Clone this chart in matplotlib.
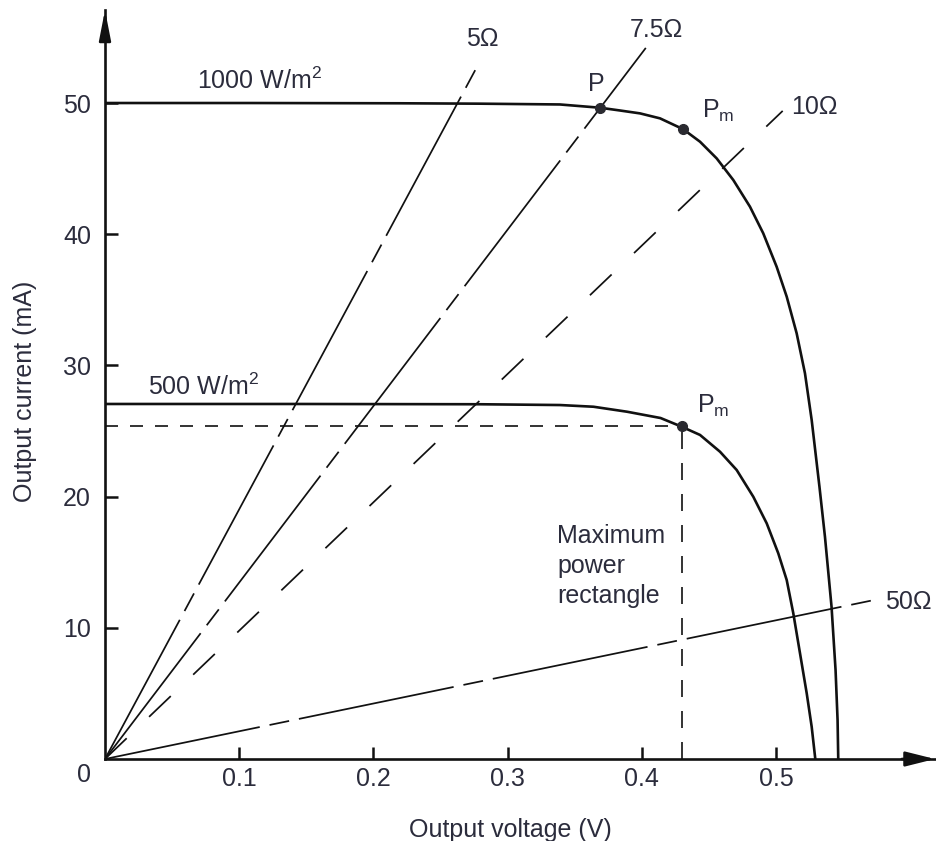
import numpy as np
import matplotlib
matplotlib.use("Agg")
import matplotlib.pyplot as plt

plt.rcParams['font.family'] = ['Liberation Sans', 'DejaVu Sans']
plt.rcParams['mathtext.fontset'] = 'custom'
plt.rcParams['mathtext.rm'] = 'Liberation Sans'
plt.rcParams['mathtext.it'] = 'Liberation Sans'
plt.rcParams['lines.scale_dashes'] = False

TXT = '#2b2c3c'
INK = '#111111'
FS = 18

# I-V curve, 1000 W/m^2 (voltage V, current mA)
v_1000 = [0.0000, 0.1080, 0.2200, 0.2790, 0.3390, 0.3690, 0.3838, 0.3987, 0.4136,
          0.4309, 0.4434, 0.4558, 0.4682, 0.4806, 0.4905, 0.5005, 0.5080, 0.5154,
          0.5216, 0.5266, 0.5324, 0.5365, 0.5414, 0.5444, 0.5459, 0.5464]
i_1000 = [50.00, 50.00, 49.98, 49.95, 49.89, 49.64, 49.43, 49.21, 48.83,
          48.00, 47.05, 45.78, 44.13, 42.10, 40.07, 37.52, 35.24, 32.45,
          29.40, 25.84, 20.75, 16.94, 11.61, 6.78, 2.97, 0.00]

# I-V curve, 500 W/m^2
v_500 = [0.0000, 0.1450, 0.2790, 0.3390, 0.3640, 0.3890, 0.4140, 0.4297, 0.4434,
         0.4583, 0.4707, 0.4831, 0.4931, 0.5017, 0.5080, 0.5129, 0.5179, 0.5229,
         0.5266, 0.5293]
i_500 = [27.06, 27.06, 27.04, 26.98, 26.85, 26.47, 25.99, 25.33, 24.70,
         23.42, 22.03, 19.99, 17.96, 15.68, 13.64, 11.11, 8.06, 5.01,
         2.46, 0.00]

# operating points
p_point = (0.369, 49.64)
pm_1000 = (0.431, 48.00)
pm_500 = (0.430, 25.35)

# load lines: label, end voltage, end current
load_labels = ['5Ω', '7.5Ω', '10Ω', '50Ω']
load_v_end = [0.279, 0.403, 0.505, 0.577]
load_i_end = [53.1, 54.2, 49.4, 12.2]

x_ticks = [0.1, 0.2, 0.3, 0.4, 0.5]
y_ticks = [10, 20, 30, 40, 50]

fig = plt.figure(figsize=(9.37, 8.41), dpi=100)
ax = fig.add_axes([105 / 937, 82 / 841, 830 / 937, 749 / 841])
ax.set_xlim(0, 0.6185)
ax.set_ylim(0, 57.09)

# px -> pt at 100 dpi
pt = 0.72
long_short = (0, (158 * pt, 10 * pt, 20 * pt, 10 * pt))
even_dash = (0, (30 * pt, 31 * pt))
dash_styles = [long_short, long_short, even_dash, long_short]

for lab, ve, ie, ls in zip(load_labels, load_v_end, load_i_end, dash_styles):
    ax.plot([0, ve], [0, ie], color=INK, lw=1.25, linestyle=ls,
            solid_capstyle='butt', dash_capstyle='butt')

ax.plot(v_1000, i_1000, color=INK, lw=1.9, solid_joinstyle='round')
ax.plot(v_500, i_500, color=INK, lw=1.9, solid_joinstyle='round')

# maximum power rectangle
ax.plot([0, pm_500[0]], [pm_500[1], pm_500[1]], color=INK, lw=1.2,
        linestyle=(0, (13 * pt, 12 * pt)))
ax.plot([pm_500[0], pm_500[0]], [0, pm_500[1]], color=INK, lw=1.2,
        linestyle=(0, (17 * pt, 14 * pt)))

for px_, py_ in [p_point, pm_1000, pm_500]:
    ax.plot(px_, py_, 'o', color='#2a2a30', ms=7, zorder=5)

# labels
ax.text(0.281, 54.9, '5Ω', color=TXT, fontsize=FS, ha='center', va='center')
ax.text(0.411, 55.6, '7.5Ω', color=TXT, fontsize=FS, ha='center', va='center')
ax.text(0.511, 49.7, '10Ω', color=TXT, fontsize=FS, ha='left', va='center')
ax.text(0.581, 12.0, '50Ω', color=TXT, fontsize=FS, ha='left', va='center')
ax.text(0.0686, 51.07, r'1000 W/m$^{2}$', color=TXT, fontsize=FS, ha='left', va='baseline')
ax.text(0.032, 27.74, r'500 W/m$^{2}$', color=TXT, fontsize=FS, ha='left', va='baseline')
ax.text(0.360, 50.9, 'P', color=TXT, fontsize=FS, ha='left', va='baseline')
ax.text(0.445, 48.9, r'P$_{\rm m}$', color=TXT, fontsize=FS, ha='left', va='baseline')
ax.text(0.441, 26.37, r'P$_{\rm m}$', color=TXT, fontsize=FS, ha='left', va='baseline')
ax.text(0.337, 17.9, 'Maximum\npower\nrectangle', color=TXT, fontsize=FS,
        ha='left', va='top', linespacing=1.3)
ax.text(-0.0156, -1.22, '0', color=TXT, fontsize=FS, ha='center', va='center')

# axes
for s in ['top', 'right']:
    ax.spines[s].set_visible(False)
for s in ['left', 'bottom']:
    ax.spines[s].set_linewidth(1.9)
    ax.spines[s].set_color(INK)

ax.set_xticks(x_ticks)
ax.set_xticklabels([f'{t:.1f}' for t in x_ticks])
ax.set_yticks(y_ticks)
ax.set_yticklabels([str(t) for t in y_ticks])
ax.tick_params(axis='both', direction='in', length=9, width=1.8, color=INK,
               labelsize=FS, labelcolor=TXT)
ax.tick_params(axis='x', pad=6)
ax.tick_params(axis='y', pad=10)

ax.set_xlabel('Output voltage (V)', fontsize=FS, color=TXT, labelpad=19)
ax.set_ylabel('Output current (mA)', fontsize=FS, color=TXT, labelpad=19)
ax.xaxis.label.set_x(0.488)
ax.yaxis.label.set_y(0.491)

ax.annotate('', xy=(1, 0), xytext=(0.96, 0), xycoords='axes fraction',
            arrowprops=dict(arrowstyle='-|>,head_length=1.8,head_width=0.45',
                            color=INK, lw=1.9, shrinkA=0, shrinkB=0), annotation_clip=False)
ax.annotate('', xy=(0, 1), xytext=(0, 0.96), xycoords='axes fraction',
            arrowprops=dict(arrowstyle='-|>,head_length=1.8,head_width=0.35',
                            color=INK, lw=1.9, shrinkA=0, shrinkB=0), annotation_clip=False)

fig.savefig('out.png', dpi=100)
